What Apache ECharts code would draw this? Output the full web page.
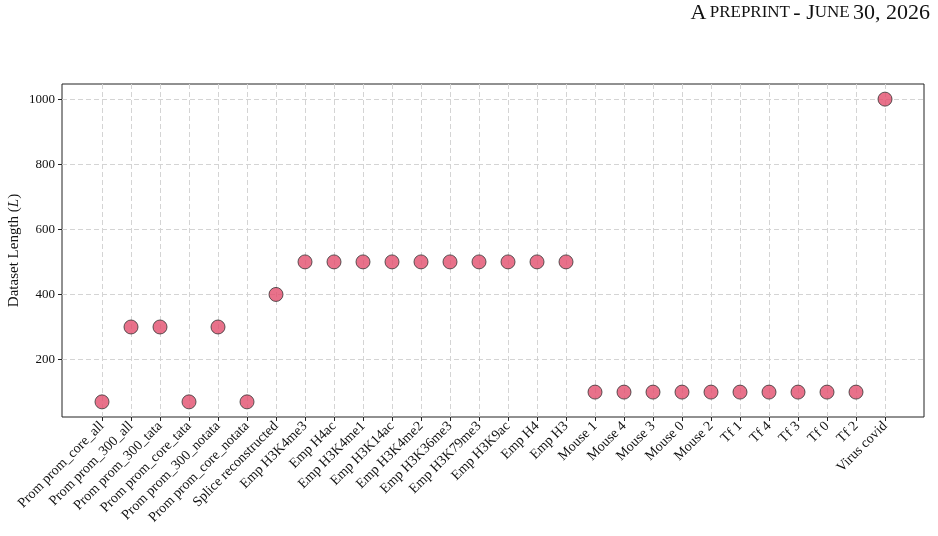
<!DOCTYPE html>
<html>
<head>
<meta charset="utf-8">
<script src="https://cdn.jsdelivr.net/npm/echarts@6/dist/echarts.min.js"></script>
<style>
  html, body { margin: 0; padding: 0; background: #fff; }
  #chart { width: 938px; height: 536px; }
</style>
</head>
<body>
<div id="chart"></div>
<script>
// datasets on the x axis
const categories = [
  'Prom prom_core_all', 'Prom prom_300_all', 'Prom prom_300_tata', 'Prom prom_core_tata',
  'Prom prom_300_notata', 'Prom prom_core_notata', 'Splice reconstructed',
  'Emp H3K4me3', 'Emp H4ac', 'Emp H3K4me1', 'Emp H3K14ac', 'Emp H3K4me2',
  'Emp H3K36me3', 'Emp H3K79me3', 'Emp H3K9ac', 'Emp H4', 'Emp H3',
  'Mouse 1', 'Mouse 4', 'Mouse 3', 'Mouse 0', 'Mouse 2',
  'Tf 1', 'Tf 4', 'Tf 3', 'Tf 0', 'Tf 2', 'Virus covid'
]
// sequence length of each dataset
const lengths = [
  70, 300, 300, 70, 300, 70, 400,
  500, 500, 500, 500, 500, 500, 500, 500, 500, 500,
  100, 100, 100, 100, 100,
  100, 100, 100, 100, 100, 1000
]
const yTicks = [200, 400, 600, 800, 1000]

const font = 'Liberation Serif'
const yMin = 23.5
const yMax = 1046.5

const chart = echarts.init(document.getElementById('chart'))
chart.setOption({
  animation: false,
  textStyle: { fontFamily: font },
  graphic: [
    {
      type: 'text',
      right: 8,
      top: 2,
      style: {
        text: '{b|A} {s|PREPRINT} {b|- J}{s|UNE} {b|30, 2026}',
        fill: '#111',
        rich: {
          b: { fontFamily: font, fontSize: 22, fill: '#111' },
          s: { fontFamily: font, fontSize: 17, fill: '#111' }
        }
      }
    }
  ],
  grid: [
    // outer frame, carries the y axis
    { left: 62, right: 14, top: 84, bottom: 119, outerBoundsMode: 'none', containLabel: false,
      show: true, borderColor: '#222', borderWidth: 1, backgroundColor: 'transparent' },
    // inner grid for the categories (matplotlib margins)
    { left: 102, right: 53, top: 84, bottom: 119, outerBoundsMode: 'none', containLabel: false }
  ],
  xAxis: [
    { gridIndex: 0, type: 'value', min: 0, max: 1, show: false },
    {
      gridIndex: 1,
      type: 'category',
      data: categories,
      boundaryGap: false,
      axisLine: { show: false },
      axisTick: { show: true, length: 4, alignWithLabel: true, lineStyle: { color: '#222' } },
      axisLabel: { rotate: 45, interval: 0, margin: 7, fontFamily: font, fontSize: 14, color: '#111' },
      splitLine: { show: true, lineStyle: { type: [5, 3], color: '#d4d4d4', width: 1 } }
    }
  ],
  yAxis: [
    {
      gridIndex: 0,
      type: 'value',
      min: yMin,
      max: yMax,
      name: '{n|Dataset Length (}{i|L}{n|)}',
      nameLocation: 'middle',
      nameGap: 40,
      nameMoveOverlap: false,
      nameTextStyle: {
        rich: {
          n: { fontFamily: font, fontSize: 15, color: '#111' },
          i: { fontFamily: font, fontSize: 15, fontStyle: 'italic', color: '#111' }
        }
      },
      axisLine: { show: false },
      axisTick: { show: true, length: 4, lineStyle: { color: '#222' }, customValues: yTicks },
      axisLabel: { fontFamily: font, fontSize: 13, color: '#111', margin: 7, customValues: yTicks,
        formatter: v => String(v) },
      splitLine: { show: false }
    },
    { gridIndex: 1, type: 'value', min: yMin, max: yMax, show: false }
  ],
  series: [
    {
      // horizontal dashed gridlines across the whole frame
      type: 'line',
      xAxisIndex: 0,
      yAxisIndex: 0,
      data: [],
      markLine: {
        silent: true,
        symbol: 'none',
        label: { show: false },
        lineStyle: { type: [5, 3], color: '#d4d4d4', width: 1 },
        data: yTicks.map(v => ({ yAxis: v }))
      }
    },
    {
      type: 'scatter',
      xAxisIndex: 1,
      yAxisIndex: 1,
      data: lengths,
      symbol: 'circle',
      symbolSize: 14,
      itemStyle: { color: '#e24d6d', borderColor: '#333', borderWidth: 1 },
      z: 5
    }
  ]
})
</script>
</body>
</html>
